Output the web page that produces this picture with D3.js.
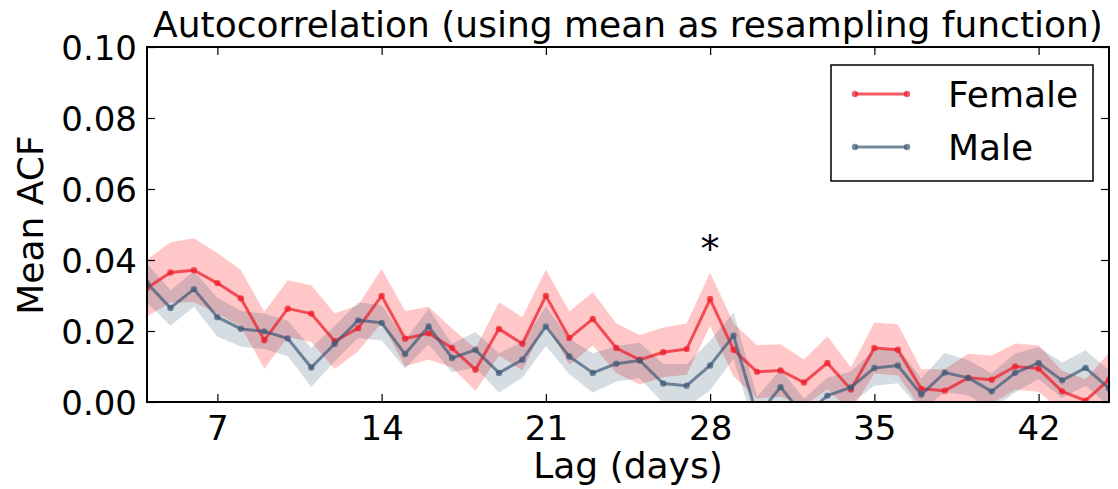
<!DOCTYPE html>
<html>
<head>
<meta charset="utf-8">
<script src="https://cdn.jsdelivr.net/npm/d3@7"></script>
<style>
  html, body { margin: 0; padding: 0; background: #fff; }
  svg text { font-family: "DejaVu Sans", sans-serif; fill: #000; }
</style>
</head>
<body>
<svg id="chart" width="1118" height="489"></svg>
<script>
// Lags (days) and mean autocorrelation per group
const lags = d3.range(4, 46);
const femaleACF = [0.0321, 0.0365, 0.0371, 0.0335, 0.0292, 0.0174, 0.0263, 0.0249, 0.0171, 0.0208,
                   0.0299, 0.0178, 0.0194, 0.0152, 0.0091, 0.0206, 0.0164, 0.0299, 0.0180, 0.0234,
                   0.0152, 0.0119, 0.0140, 0.0149, 0.0290, 0.0147, 0.0085, 0.0089, 0.0055, 0.0110,
                   0.0035, 0.0152, 0.0147, 0.0037, 0.0032, 0.0068, 0.0063, 0.0100, 0.0094, 0.0030,
                   0.0004, 0.0063];
const maleACF   = [0.0335, 0.0265, 0.0318, 0.0239, 0.0206, 0.0199, 0.0179, 0.0097, 0.0164, 0.0230,
                   0.0223, 0.0135, 0.0213, 0.0124, 0.0147, 0.0082, 0.0119, 0.0213, 0.0128, 0.0082,
                   0.0108, 0.0117, 0.0052, 0.0046, 0.0103, 0.0187, -0.0040, 0.0042, -0.0040, 0.0018,
                   0.0041, 0.0096, 0.0103, 0.0021, 0.0083, 0.0068, 0.0030, 0.0082, 0.0110, 0.0061,
                   0.0096, 0.0039];
// Half-width of the resampling confidence band
const femaleCI  = [0.0080, 0.0085, 0.0090, 0.0085, 0.0080, 0.0080, 0.0080, 0.0080, 0.0078, 0.0065,
                   0.0076, 0.0078, 0.0074, 0.0055, 0.0060, 0.0075, 0.0075, 0.0074, 0.0075, 0.0075,
                   0.0070, 0.0070, 0.0070, 0.0072, 0.0075, 0.0075, 0.0075, 0.0074, 0.0065, 0.0075,
                   0.0062, 0.0072, 0.0072, 0.0055, 0.0060, 0.0068, 0.0068, 0.0065, 0.0065, 0.0058,
                   0.0060, 0.0075];
const maleCI    = [0.0055, 0.0050, 0.0050, 0.0055, 0.0050, 0.0050, 0.0050, 0.0055, 0.0050, 0.0050,
                   0.0050, 0.0040, 0.0050, 0.0040, 0.0050, 0.0055, 0.0050, 0.0055, 0.0050, 0.0055,
                   0.0050, 0.0050, 0.0055, 0.0060, 0.0070, 0.0065, 0.0055, 0.0050, 0.0050, 0.0050,
                   0.0045, 0.0050, 0.0050, 0.0045, 0.0055, 0.0050, 0.0050, 0.0055, 0.0045, 0.0050,
                   0.0050, 0.0050];
const xTicks = [7, 14, 21, 28, 35, 42];
const yTicks = [0.00, 0.02, 0.04, 0.06, 0.08, 0.10];
const significantLags = [28];

const series = [
  { name: "Female", values: femaleACF, ci: femaleCI, line: "#ee1c28", band: "#ff0000", bandOpacity: 0.22, lineOpacity: 0.72 },
  { name: "Male",   values: maleACF,   ci: maleCI,   line: "#3d5a78", band: "#2f4f6f", bandOpacity: 0.2,  lineOpacity: 0.7 }
];

const svg = d3.select("#chart");
const margin = { left: 147, right: 9, top: 47, bottom: 87 };
const W = 1118, H = 489;
const plotW = W - margin.left - margin.right;
const plotH = H - margin.top - margin.bottom;

const x = d3.scaleLinear().domain([4, 45]).range([0, plotW]);
const y = d3.scaleLinear().domain([0, 0.10]).range([plotH, 0]);

const g = svg.append("g").attr("transform", `translate(${margin.left},${margin.top})`);

g.append("clipPath").attr("id", "plot-clip")
  .append("rect").attr("width", plotW).attr("height", plotH);

const layer = g.append("g").attr("clip-path", "url(#plot-clip)");

const area = d3.area()
  .x((d, i) => x(lags[i]))
  .y0(d => y(d.lo))
  .y1(d => y(d.hi));
const line = d3.line().x((d, i) => x(lags[i])).y(d => y(d));

// Confidence bands first, then the lines on top
series.forEach(s => {
  const band = s.values.map((v, i) => ({ lo: v - s.ci[i], hi: v + s.ci[i] }));
  layer.append("path").datum(band)
    .attr("d", area)
    .attr("fill", s.band)
    .attr("fill-opacity", s.bandOpacity);
});
series.forEach(s => {
  layer.append("path").datum(s.values)
    .attr("d", line)
    .attr("fill", "none")
    .attr("stroke", s.line)
    .attr("stroke-opacity", s.lineOpacity)
    .attr("stroke-width", 3)
    .attr("stroke-linejoin", "round");
  layer.append("g").selectAll("circle").data(s.values).join("circle")
    .attr("cx", (d, i) => x(lags[i]))
    .attr("cy", d => y(d))
    .attr("r", 3.2)
    .attr("fill", s.line)
    .attr("fill-opacity", s.lineOpacity);
});

// Axes with inward ticks on all four sides
const tickLen = 8;
const fmtY = d3.format(".2f");
const axisStyle = sel => {
  sel.select(".domain").remove();
  sel.selectAll(".tick line").attr("stroke", "#000").attr("stroke-width", 1.2);
  sel.selectAll(".tick text").attr("font-size", 34).attr("font-family", "DejaVu Sans");
};
g.append("g").attr("transform", `translate(0,${plotH})`)
  .call(d3.axisBottom(x).tickValues(xTicks).tickSize(-tickLen).tickPadding(14).tickFormat(d3.format("d")))
  .call(axisStyle);
g.append("g")
  .call(d3.axisTop(x).tickValues(xTicks).tickSize(-tickLen).tickFormat(""))
  .call(axisStyle);
g.append("g")
  .call(d3.axisLeft(y).tickValues(yTicks).tickSize(-tickLen).tickPadding(10).tickFormat(fmtY))
  .call(axisStyle)
  .selectAll(".tick text").attr("dy", "0.36em");
g.append("g").attr("transform", `translate(${plotW},0)`)
  .call(d3.axisRight(y).tickValues(yTicks).tickSize(-tickLen).tickFormat(""))
  .call(axisStyle);

g.append("rect").attr("width", plotW).attr("height", plotH)
  .attr("fill", "none").attr("stroke", "#000").attr("stroke-width", 2);

// Significance marker
g.selectAll(".sig").data(significantLags).join("text")
  .attr("class", "sig")
  .attr("x", d => x(d))
  .attr("y", d => y(femaleACF[lags.indexOf(d)] + femaleCI[lags.indexOf(d)]) - 10)
  .attr("text-anchor", "middle")
  .attr("font-size", 38)
  .text("*");

// Title and axis labels
svg.append("text")
  .attr("x", margin.left + plotW / 2).attr("y", 37)
  .attr("text-anchor", "middle").attr("font-size", 36)
  .text("Autocorrelation (using mean as resampling function)");
svg.append("text")
  .attr("x", margin.left + plotW / 2).attr("y", 478)
  .attr("text-anchor", "middle").attr("font-size", 36)
  .text("Lag (days)");
svg.append("text")
  .attr("transform", `translate(43,225) rotate(-90)`)
  .attr("text-anchor", "middle").attr("font-size", 36)
  .text("Mean ACF");

// Legend
const legend = svg.append("g").attr("transform", "translate(831,65)");
legend.append("rect").attr("width", 262).attr("height", 116)
  .attr("fill", "#fff").attr("stroke", "#000").attr("stroke-width", 1.5);
series.forEach((s, i) => {
  const row = legend.append("g").attr("transform", `translate(0,${29 + i * 53})`);
  row.append("line").attr("x1", 24).attr("x2", 76)
    .attr("stroke", s.line).attr("stroke-opacity", s.lineOpacity).attr("stroke-width", 3);
  row.selectAll("circle").data([24, 76]).join("circle")
    .attr("cx", d => d).attr("cy", 0).attr("r", 3.2)
    .attr("fill", s.line).attr("fill-opacity", s.lineOpacity);
  row.append("text").attr("x", 117).attr("y", 13)
    .attr("font-size", 36).text(s.name);
});
</script>
</body>
</html>
